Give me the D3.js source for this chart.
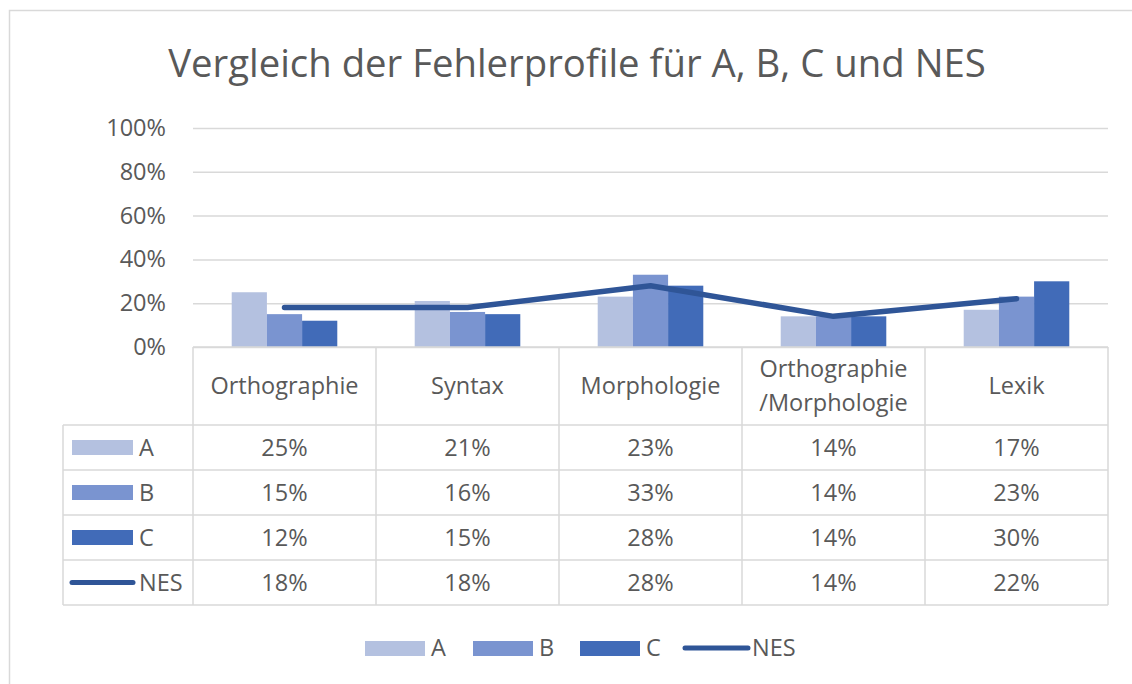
<!DOCTYPE html>
<html>
<head>
<meta charset="utf-8">
<script src="https://cdn.jsdelivr.net/npm/d3@7"></script>
<style>
  body { margin: 0; background: #fff; }
  text { font-family: "Open Sans", "Noto Sans", sans-serif; fill: #595959; }
</style>
</head>
<body>
<div id="chart"></div>
<script>
// Daten
var categories = ["Orthographie", "Syntax", "Morphologie", "Orthographie\n/Morphologie", "Lexik"]
var valuesA = [25, 21, 23, 14, 17]
var valuesB = [15, 16, 33, 14, 23]
var valuesC = [12, 15, 28, 14, 30]
var valuesNES = [18, 18, 28, 14, 22]
var yTicks = [0, 20, 40, 60, 80, 100]

var barSeries = [
  { name: "A", data: valuesA, color: "#b4c1e0" },
  { name: "B", data: valuesB, color: "#7a94d0" },
  { name: "C", data: valuesC, color: "#416bb8" }
]
var lineColor = "#2f5597"
var gridColor = "#d9d9d9"
var fs = "23.5px"

var svg = d3.select("#chart")
  .append("svg")
  .attr("width", 1132)
  .attr("height", 684)

// Rahmen
svg.append("rect")
  .attr("x", 9.5).attr("y", 10.5)
  .attr("width", 1140).attr("height", 700)
  .attr("fill", "white")
  .attr("stroke", gridColor)
  .attr("stroke-width", 1.5)

svg.append("text")
  .attr("x", 577).attr("y", 77)
  .attr("text-anchor", "middle")
  .style("font-size", "38.3px")
  .text("Vergleich der Fehlerprofile für A, B, C und NES")

const plotLeft = 193, plotRight = 1108, plotTop = 128, plotBottom = 347

const xScale = d3.scaleBand()
  .domain(d3.range(categories.length))
  .range([plotLeft, plotRight])
  .paddingInner(0)
  .paddingOuter(0)

const xInner = d3.scaleBand()
  .domain(barSeries.map(d => d.name))
  .range([0, xScale.bandwidth()])
  .paddingInner(0)
  .paddingOuter(1.1)

const yScale = d3.scaleLinear()
  .domain([0, 100])
  .range([plotBottom, plotTop])

// Gitter + y-Achse
const yAxis = d3.axisLeft(yScale)
  .tickValues(yTicks)
  .tickSize(-(plotRight - plotLeft))
  .tickPadding(27)
  .tickFormat(d => d + "%")

var gY = svg.append("g")
  .attr("class", "VerticalAxis")
  .attr("transform", `translate(${plotLeft},0)`)
  .call(yAxis)
gY.select(".domain").remove()
gY.selectAll(".tick line")
  .style("stroke", gridColor)
  .style("stroke-width", 1.5)
gY.selectAll(".tick text")
  .style("font-size", fs)
  .style("font-family", "'Open Sans', sans-serif")
  .attr("fill", "#595959")

// Balken
var groups = svg.append("g")
  .selectAll("g")
  .data(barSeries)
  .enter()
  .append("g")
  .attr("fill", d => d.color)

groups.selectAll("rect")
  .data(d => d.data.map((v, i) => ({ name: d.name, v: v, i: i })))
  .enter()
  .append("rect")
  .attr("x", d => xScale(d.i) + xInner(d.name))
  .attr("width", xInner.bandwidth())
  .attr("y", d => yScale(d.v))
  .attr("height", d => yScale(0) - yScale(d.v))

// Linie NES
const line = d3.line()
  .x((d, i) => xScale(i) + xScale.bandwidth() / 2)
  .y(d => yScale(d))

svg.append("path")
  .attr("d", line(valuesNES))
  .attr("fill", "none")
  .attr("stroke", lineColor)
  .attr("stroke-width", 5.5)
  .attr("stroke-linecap", "round")
  .attr("stroke-linejoin", "round")

// Datentabelle
const tableLeft = 63
const rowTops = [347, 425, 470, 515, 560, 605]
var table = svg.append("g").attr("class", "DataTable")

table.selectAll("line.h")
  .data(rowTops)
  .enter()
  .append("line")
  .attr("class", "h")
  .attr("x1", (d, i) => i == 0 ? plotLeft : tableLeft)
  .attr("x2", plotRight)
  .attr("y1", d => d).attr("y2", d => d)
  .style("stroke", gridColor)
  .style("stroke-width", 1.5)

var vlines = d3.range(categories.length + 1).map(i => i < categories.length ? xScale(i) : plotRight)
table.selectAll("line.v")
  .data(vlines)
  .enter()
  .append("line")
  .attr("class", "v")
  .attr("x1", d => d).attr("x2", d => d)
  .attr("y1", rowTops[0]).attr("y2", rowTops[5])
  .style("stroke", gridColor)
  .style("stroke-width", 1.5)

table.append("line")
  .attr("x1", tableLeft).attr("x2", tableLeft)
  .attr("y1", rowTops[1]).attr("y2", rowTops[5])
  .style("stroke", gridColor)
  .style("stroke-width", 1.5)

// Kopfzeile
categories.forEach(function(c, i) {
  var parts = c.split("\n")
  var t = table.append("text")
    .attr("text-anchor", "middle")
    .style("font-size", fs)
  var cy = (rowTops[0] + rowTops[1]) / 2
  parts.forEach(function(p, j) {
    t.append("tspan")
      .attr("x", xScale(i) + xScale.bandwidth() / 2)
      .attr("y", cy + 8 + (j - (parts.length - 1) / 2) * 34)
      .text(p)
  })
})

var rows = [
  { name: "A", data: valuesA, color: barSeries[0].color, type: "bar" },
  { name: "B", data: valuesB, color: barSeries[1].color, type: "bar" },
  { name: "C", data: valuesC, color: barSeries[2].color, type: "bar" },
  { name: "NES", data: valuesNES, color: lineColor, type: "line" }
]

rows.forEach(function(r, k) {
  var cy = (rowTops[k + 1] + rowTops[k + 2]) / 2
  if (r.type == "bar") {
    table.append("rect")
      .attr("x", 72).attr("y", cy - 7.5)
      .attr("width", 61).attr("height", 15)
      .attr("fill", r.color)
  } else {
    table.append("line")
      .attr("x1", 72).attr("x2", 133)
      .attr("y1", cy).attr("y2", cy)
      .style("stroke", r.color)
      .style("stroke-width", 5)
      .style("stroke-linecap", "round")
  }
  table.append("text")
    .attr("x", 139).attr("y", cy + 8)
    .style("font-size", fs)
    .text(r.name)
  r.data.forEach(function(v, i) {
    table.append("text")
      .attr("x", xScale(i) + xScale.bandwidth() / 2)
      .attr("y", cy + 8)
      .attr("text-anchor", "middle")
      .style("font-size", fs)
      .text(v + "%")
  })
})

// Legende
var legendItems = [
  { name: "A", x: 365, color: barSeries[0].color, type: "bar" },
  { name: "B", x: 473, color: barSeries[1].color, type: "bar" },
  { name: "C", x: 580, color: barSeries[2].color, type: "bar" },
  { name: "NES", x: 685, color: lineColor, type: "line" }
]
var legend = svg.append("g").attr("class", "Legend")
legendItems.forEach(function(d) {
  if (d.type == "bar") {
    legend.append("rect")
      .attr("x", d.x).attr("y", 641)
      .attr("width", 60).attr("height", 15)
      .attr("fill", d.color)
  } else {
    legend.append("line")
      .attr("x1", d.x).attr("x2", d.x + 63)
      .attr("y1", 648).attr("y2", 648)
      .style("stroke", d.color)
      .style("stroke-width", 5)
      .style("stroke-linecap", "round")
  }
  legend.append("text")
    .attr("x", d.x + (d.type == "bar" ? 66 : 67))
    .attr("y", 656)
    .style("font-size", fs)
    .text(d.name)
})
</script>
</body>
</html>
